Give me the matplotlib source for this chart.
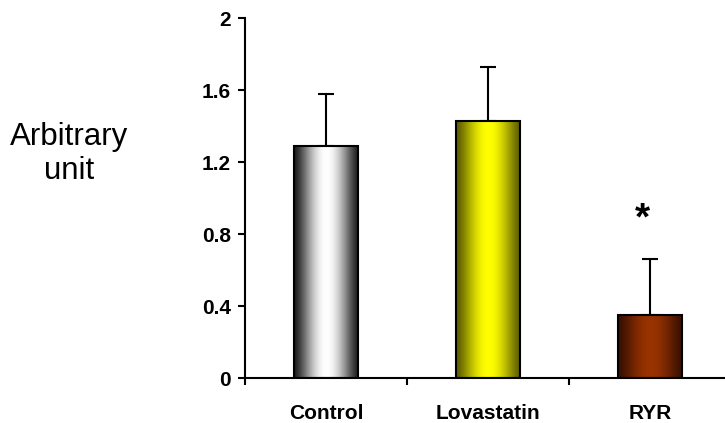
import numpy as np
import matplotlib
matplotlib.use("Agg")
import matplotlib.pyplot as plt
from matplotlib.colors import to_rgb

plt.rcParams['font.family'] = ['Liberation Sans', 'DejaVu Sans']

categories = ["Control", "Lovastatin", "RYR"]
values = [1.29, 1.43, 0.35]
errors = [0.29, 0.30, 0.31]
yticks = [0, 0.4, 0.8, 1.2, 1.6, 2]
ytick_labels = ["0", "0.4", "0.8", "1.2", "1.6", "2"]
significance = ["", "", "*"]

# (edge colour, centre colour) for the horizontal shading of each bar
shades = [("#1c1c1c", "#ffffff"), ("#5c5c00", "#ffff00"), ("#381000", "#993300")]

fig = plt.figure(figsize=(7.25, 4.23), dpi=100)
ax = fig.add_axes([245 / 725, 45 / 423, 486 / 725, 360 / 423])

x = np.arange(len(categories))
bars = ax.bar(x, values, width=0.4, color="none", edgecolor="black",
              linewidth=1.5, zorder=3)

# shaded fill clipped to each bar
t = np.linspace(0, 1, 256)
profile = np.sin(np.pi * np.clip(t, 0, 1)) ** 1.4
for bar, (dark, light) in zip(bars, shades):
    d = np.array(to_rgb(dark))
    l = np.array(to_rgb(light))
    img = d[None, :] + (l - d)[None, :] * profile[:, None]
    img = img[None, :, :]
    x0, w, h = bar.get_x(), bar.get_width(), bar.get_height()
    im = ax.imshow(img, extent=[x0, x0 + w, 0, h], aspect="auto",
                   interpolation="bilinear", zorder=2)
    im.set_clip_path(bar)

ax.errorbar(x, values, yerr=[np.zeros(len(errors)), errors], fmt="none",
            ecolor="black", elinewidth=1.5, capsize=5.5, capthick=1.5,
            zorder=1)

for xi, v, e, s in zip(x, values, errors, significance):
    if s:
        ax.text(xi - 0.045, v + e + 0.22, s, ha="center", va="center",
                fontsize=28, fontweight="bold")

ax.set_xlim(-0.5, 2.5)
ax.set_ylim(0, 2)
ax.set_yticks(yticks)
ax.set_yticklabels(ytick_labels, fontsize=15, fontweight="bold")
ax.set_xticks(x)
ax.set_xticklabels(categories, fontsize=15, fontweight="bold")
ax.set_xticks(np.arange(-0.5, 3, 1), minor=True)
ax.tick_params(axis="x", which="major", length=0, pad=19)
ax.tick_params(axis="x", which="minor", length=5, width=1.5, direction="out")
ax.tick_params(axis="y", length=5, width=1.5, direction="out", pad=5)

for side in ("top", "right"):
    ax.spines[side].set_visible(False)
for side in ("left", "bottom"):
    ax.spines[side].set_linewidth(1.5)

fig.text(69 / 725, 1 - 154 / 423, "Arbitrary\nunit", ha="center",
         va="center", fontsize=22.5, linespacing=1.15)

fig.savefig("out.png", dpi=100)
